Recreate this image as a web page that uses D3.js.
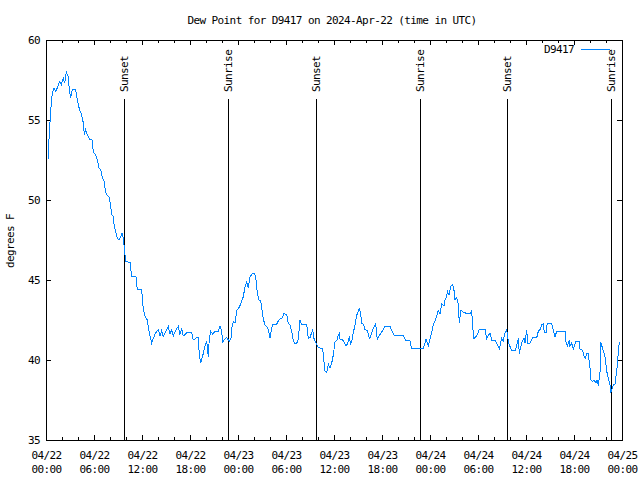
<!DOCTYPE html>
<html>
<head>
<meta charset="utf-8">
<script src="https://cdn.jsdelivr.net/npm/d3@7"></script>
<style>
  body { margin: 0; background: #fff; }
  svg text { font-family: "DejaVu Sans Mono", monospace; font-size: 11px; letter-spacing: -0.6px; fill: #000; }
</style>
</head>
<body>
<div id="chart"></div>
<script>
// Données : heures depuis le 2024-04-22 00:00 UTC, point de rosée en °F
const startTime = Date.UTC(2024, 3, 22, 0, 0);
const hours = [
  0.25, 0.3, 0.46, 0.59, 0.79, 1.0, 1.21, 1.41, 1.71, 1.91, 2.16, 2.34, 2.54, 2.75, 2.96, 3.09,
  3.29, 3.71, 3.91, 4.21, 4.41, 4.63, 4.71, 4.79, 4.96, 5.16, 5.46, 5.79, 5.91, 6.21, 6.41, 6.63,
  6.84, 7.04, 7.25, 7.46, 7.66, 7.88, 8.09, 8.21, 8.38, 8.5, 8.71, 8.91, 9.13, 9.34, 9.5, 9.63,
  9.75, 9.84, 10.0, 10.5, 10.71, 11.25, 11.41, 11.96, 12.16, 12.38, 12.66, 12.91, 13.21, 13.41,
  13.71, 14.04, 14.25, 14.46, 14.66, 14.88, 15.09, 15.29, 15.5, 15.71, 15.91, 16.13, 16.34, 16.54,
  16.75, 16.96, 17.16, 17.38, 17.59, 18.21, 18.41, 18.84, 19.04, 19.16, 19.34, 19.5, 19.66, 19.88,
  20.09, 20.21, 20.29, 20.41, 20.59, 20.84, 21.13, 21.54, 21.75, 21.96, 22.09, 22.38, 22.59, 22.91,
  23.13, 23.21, 23.41, 23.63, 23.84, 24.04, 24.34, 24.59, 24.66, 24.88, 25.09, 25.29, 25.5, 25.71,
  26.0, 26.21, 26.41, 26.63, 26.84, 27.0, 27.16, 27.38, 27.59, 27.79, 28.0, 28.21, 28.34, 28.84,
  29.16, 29.46, 29.75, 30.09, 30.29, 30.5, 30.71, 30.91, 31.13, 31.34, 31.54, 31.75, 31.96, 32.16,
  32.59, 32.79, 33.0, 33.13, 33.34, 33.5, 33.75, 34.04, 34.25, 34.59, 34.75, 34.88, 35.09, 35.29,
  35.5, 35.71, 35.91, 36.13, 36.34, 36.54, 36.66, 36.75, 36.96, 37.16, 37.5, 37.66, 37.91, 38.09,
  38.25, 38.41, 38.63, 38.84, 39.16, 39.34, 39.46, 39.66, 39.88, 40.16, 40.41, 40.5, 40.91, 41.13,
  41.21, 41.41, 41.75, 42.16, 42.38, 43.0, 43.5, 44.66, 45.0, 45.5, 45.71, 46.75, 47.16, 47.5,
  47.79, 48.0, 48.21, 48.41, 48.75, 49.04, 49.25, 49.46, 49.75, 49.88, 50.09, 50.16, 50.38, 50.59,
  50.84, 51.0, 51.13, 51.34, 51.54, 51.66, 51.84, 52.16, 52.59, 53.0, 53.21, 53.34, 53.5, 53.84,
  54.16, 54.88, 55.09, 55.25, 55.5, 55.71, 56.13, 56.34, 56.66, 56.96, 57.16, 57.38, 57.59, 57.79,
  58.0, 58.21, 58.63, 58.84, 59.04, 59.16, 59.34, 59.54, 59.75, 59.88, 60.09, 60.21, 60.5, 60.84,
  61.34, 61.54, 61.75, 61.96, 62.16, 62.29, 62.5, 62.66, 63.21, 63.41, 63.63, 63.84, 64.88, 65.0,
  65.16, 65.41, 65.5, 65.71, 65.91, 66.25, 66.66, 66.75, 67.09, 67.16, 67.38, 67.59, 67.79, 68.0,
  68.09, 68.34, 68.5, 68.75, 68.88, 69.04, 69.25, 69.34, 69.59, 69.88, 70.09, 70.29, 70.5, 70.59,
  70.71, 70.91, 71.13, 71.34, 71.46, 71.66
];
const dewPoint = [
  52.5, 53.2, 54.5, 55.6, 56.7, 57.0, 56.8, 57.0, 57.4, 57.2, 57.6, 57.3, 58.0, 57.75, 56.7, 56.4,
  56.9, 56.9, 56.25, 55.6, 55.4, 54.9, 54.5, 54.1, 54.4, 54.1, 53.8, 53.75, 53.0, 52.8, 52.5, 52.0,
  51.9, 51.4, 51.2, 50.5, 50.3, 50.2, 49.6, 49.1, 49.0, 48.5, 48.0, 47.6, 47.5, 47.7, 47.95, 47.7,
  47.2, 46.7, 46.15, 46.1, 45.2, 45.2, 44.4, 44.4, 43.2, 42.75, 42.5, 41.7, 41.05, 41.35,
  41.7, 41.9, 41.5, 41.85, 41.45, 41.7, 41.9, 42.1, 41.6, 41.9, 41.5, 41.75, 41.95, 42.1,
  41.6, 41.95, 41.5, 41.6, 41.7, 41.7, 41.25, 41.4, 41.4, 40.3, 39.8, 40.15, 40.4, 40.9,
  41.15, 40.6, 40.2, 41.35, 41.8, 41.6, 41.8, 41.8, 42.1, 41.8, 41.15, 41.3, 41.4, 41.15,
  41.4, 42.0, 42.4, 42.3, 43.1, 43.2, 43.5, 43.85, 43.95, 44.6, 44.9, 44.5, 45.2, 45.35,
  45.45, 45.2, 44.2, 43.75, 43.7, 43.1, 42.55, 42.2, 42.1, 41.9, 41.35, 42.0, 42.25, 42.25,
  42.55, 42.6, 42.9, 42.85, 42.3, 42.2, 41.8, 41.25, 41.0, 41.05, 41.3, 42.5, 42.2, 42.2,
  42.2, 41.35, 41.4, 41.6, 41.9, 41.35, 41.05, 40.8, 40.75, 40.7, 39.9, 39.3, 39.2, 39.75,
  39.5, 39.8, 40.3, 41.15, 41.2, 41.55, 41.65, 41.3, 41.3, 41.2, 40.9, 41.0, 41.4, 41.0,
  41.25, 41.7, 42.2, 42.8, 43.2, 42.9, 42.3, 42.25, 41.9, 41.85, 41.35, 41.35, 42.0, 42.2,
  42.25, 41.3, 41.6, 41.9, 42.1, 42.1, 41.55, 41.55, 41.2, 41.2, 40.7, 40.7, 40.7, 41.3,
  40.9, 41.3, 41.7, 42.2, 42.6, 43.1, 42.9, 43.5, 43.4, 43.75, 43.95, 44.3, 44.05, 44.6,
  44.7, 44.35, 43.75, 43.9, 43.5, 42.3, 43.1, 43.0, 42.9, 42.9, 43.1, 42.0, 41.35, 41.5,
  41.9, 41.9, 41.35, 41.5, 41.7, 41.25, 41.25, 41.05, 40.7, 41.35, 41.2, 41.7, 41.9, 41.15,
  40.85, 40.6, 40.6, 40.9, 41.35, 40.4, 40.8, 41.2, 41.35, 41.05, 41.9, 41.05, 41.05, 41.4,
  41.4, 41.8, 41.9, 42.2, 42.25, 41.7, 41.7, 42.3, 42.3, 41.9, 41.45, 41.8, 41.8, 41.15,
  40.85, 41.25, 40.85, 41.05, 40.7, 41.15, 41.15, 40.7, 40.6, 40.4, 40.1, 40.4, 40.4, 39.5,
  38.75, 38.65, 38.75, 38.55, 38.75, 38.4, 39.2, 41.1, 40.7, 40.2, 39.3, 38.85, 38.45, 38.0,
  38.1, 38.45, 38.5, 39.3, 40.0, 41.1
];
const sunLabels = ['Sunset', 'Sunrise', 'Sunset', 'Sunrise', 'Sunset', 'Sunrise'];
const sunHours = [9.73, 22.77, 33.75, 46.75, 57.68, 70.65];
const yTicks = [35, 40, 45, 50, 55, 60];
const seriesName = 'D9417';

const width = 640, height = 480;
const margin = { top: 40, right: 18, bottom: 40, left: 46 };
const hourMs = 3600 * 1000;
const toDate = h => new Date(startTime + h * hourMs);

const svg = d3.select('#chart').append('svg')
  .attr('width', width)
  .attr('height', height);

const x = d3.scaleUtc()
  .domain([toDate(0), toDate(72)])
  .range([margin.left, width - margin.right]);
const y = d3.scaleLinear()
  .domain([35, 60])
  .range([height - margin.bottom, margin.top]);

const data = hours.map((h, i) => ({ t: toDate(h), v: dewPoint[i] }));

// Titre
svg.append('text')
  .attr('x', 332).attr('y', 24)
  .attr('text-anchor', 'middle')
  .text('Dew Point for D9417 on 2024-Apr-22 (time in UTC)');

// Axe Y label
svg.append('text')
  .attr('transform', 'translate(14,241) rotate(-90)')
  .attr('text-anchor', 'middle')
  .text('degrees F');

// Ticks (vers l'intérieur, en miroir)
const minorX = d3.utcHour.every(2).range(toDate(0), toDate(72.01));
const majorX = d3.utcHour.every(6).range(toDate(0), toDate(72.01));
const x0 = height - margin.bottom, x1 = margin.top;

svg.append('g').attr('transform', `translate(0,${x0})`)
  .call(d3.axisBottom(x).tickValues(minorX).tickSize(-3).tickSizeOuter(0).tickFormat(''))
  .call(g => g.select('.domain').remove());
svg.append('g').attr('transform', `translate(0,${x1})`)
  .call(d3.axisTop(x).tickValues(minorX).tickSize(-3).tickSizeOuter(0).tickFormat(''))
  .call(g => g.select('.domain').remove());
svg.append('g').attr('transform', `translate(0,${x1})`)
  .call(d3.axisTop(x).tickValues(majorX).tickSize(-5).tickSizeOuter(0).tickFormat(''))
  .call(g => g.select('.domain').remove());

const fmtDay = d3.utcFormat('%m/%d');
const fmtHour = d3.utcFormat('%H:%M');
const xAxis = svg.append('g').attr('transform', `translate(0,${x0})`)
  .call(d3.axisBottom(x).tickValues(majorX).tickSize(-5).tickSizeOuter(0).tickFormat(''))
  .call(g => g.select('.domain').remove());
xAxis.selectAll('.tick text').remove();
const lbl = xAxis.selectAll('.tick').append('text')
  .attr('text-anchor', 'middle')
  .attr('fill', '#000')
  .attr('stroke', 'none');
lbl.append('tspan').attr('x', 0).attr('y', 19).text(d => fmtDay(d));
lbl.append('tspan').attr('x', 0).attr('y', 33).text(d => fmtHour(d));

svg.append('g').attr('transform', `translate(${margin.left},0)`)
  .call(d3.axisLeft(y).tickValues(yTicks).tickSize(-5).tickSizeOuter(0).tickPadding(6).tickFormat(d3.format('d')))
  .call(g => g.select('.domain').remove())
  .call(g => g.selectAll('.tick text').attr('dy', '0.35em'));
svg.append('g').attr('transform', `translate(${width - margin.right},0)`)
  .call(d3.axisRight(y).tickValues(yTicks).tickSize(-5).tickSizeOuter(0).tickFormat(''))
  .call(g => g.select('.domain').remove());

svg.selectAll('.tick line').attr('stroke', '#000').attr('shape-rendering', 'crispEdges');
svg.selectAll('g').attr('font-family', null).attr('font-size', null);

// Lignes lever / coucher du soleil
const sun = svg.append('g');
sun.selectAll('line')
  .data(sunHours)
  .enter().append('line')
  .attr('x1', d => Math.round(x(toDate(d))) + 0.5)
  .attr('x2', d => Math.round(x(toDate(d))) + 0.5)
  .attr('y1', 99).attr('y2', y(35))
  .attr('stroke', '#000')
  .attr('shape-rendering', 'crispEdges');
sun.selectAll('text')
  .data(sunHours)
  .enter().append('text')
  .attr('transform', d => `translate(${Math.round(x(toDate(d))) + 4},92) rotate(-90)`)
  .attr('text-anchor', 'start')
  .text((d, i) => sunLabels[i]);

// Série (rendu non lissé, comme gnuplot)
svg.append('path')
  .datum(data)
  .attr('fill', 'none')
  .attr('stroke', '#0084ff')
  .attr('stroke-width', 1)
  .attr('shape-rendering', 'crispEdges')
  .attr('d', d3.line().x(d => x(d.t)).y(d => y(d.v)));

// Légende
svg.append('text')
  .attr('x', 574).attr('y', 53)
  .attr('text-anchor', 'end')
  .text(seriesName);
svg.append('line')
  .attr('x1', 581).attr('x2', 610)
  .attr('y1', 49.5).attr('y2', 49.5)
  .attr('stroke', '#0084ff')
  .attr('shape-rendering', 'crispEdges');

// Cadre
svg.append('rect')
  .attr('x', margin.left + 0.5).attr('y', margin.top + 0.5)
  .attr('width', width - margin.left - margin.right)
  .attr('height', height - margin.top - margin.bottom)
  .attr('fill', 'none')
  .attr('stroke', '#000')
  .attr('shape-rendering', 'crispEdges');
</script>
</body>
</html>
